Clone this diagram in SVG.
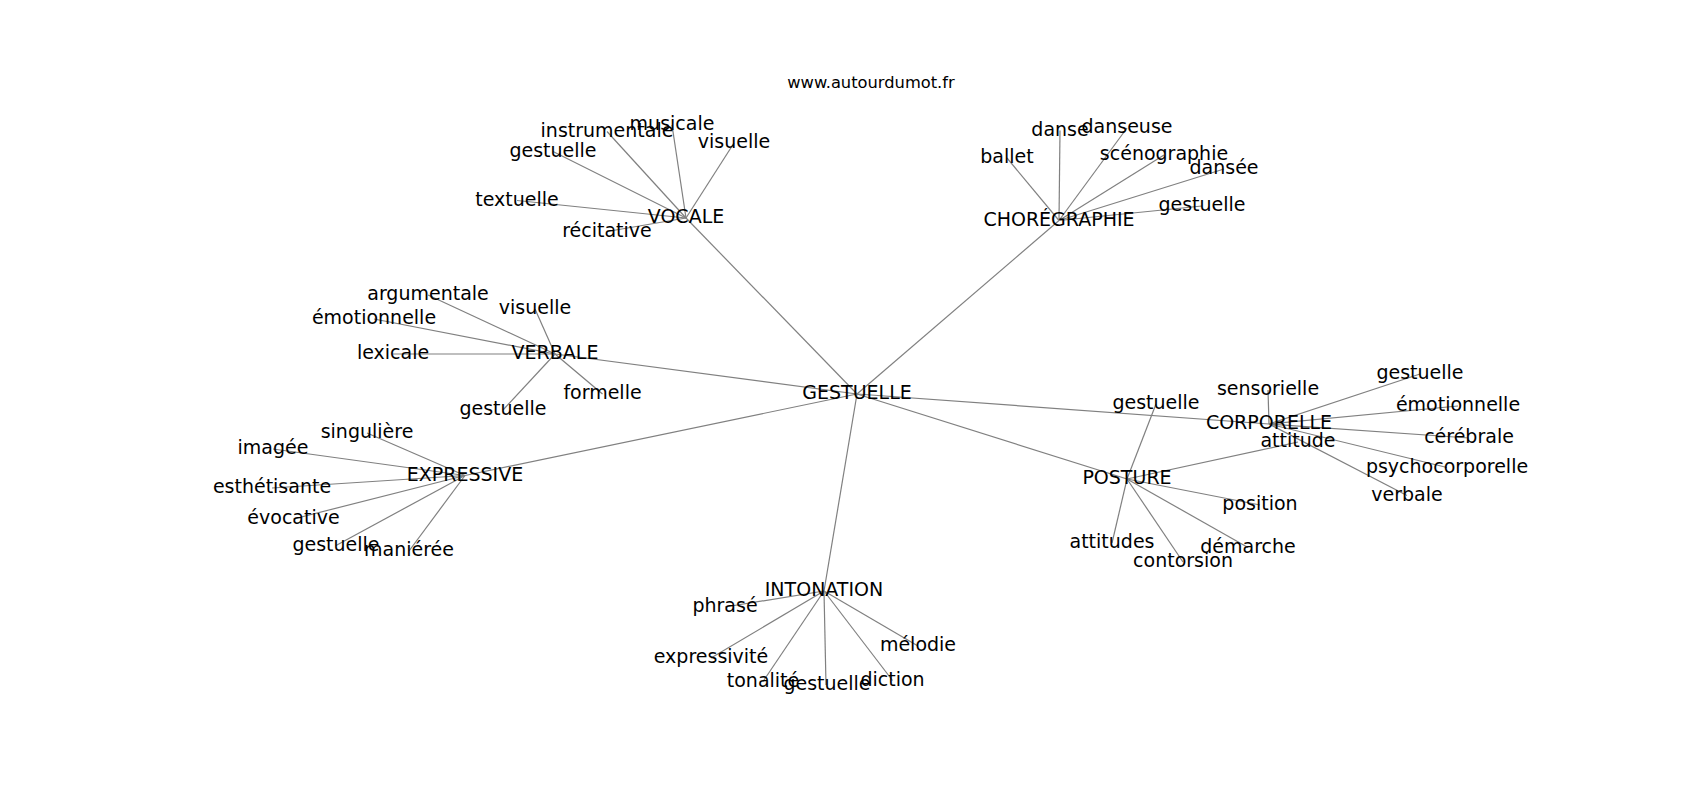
<svg xmlns="http://www.w3.org/2000/svg" width="1700" height="800" viewBox="0 0 1700 800">
<style>
.e line{stroke:#808080;stroke-width:1.2}
text{font-family:"DejaVu Sans","Liberation Sans",sans-serif;font-size:19px;fill:#000;text-anchor:middle}
.t{font-size:16.3px}
</style>
<rect width="1700" height="800" fill="#fff"/>
<text class="t" x="871" y="88">www.autourdumot.fr</text>
<g class="e" id="edges">
<line x1="857" y1="394" x2="686" y2="218"/>
<line x1="857" y1="394" x2="1059" y2="220.5"/>
<line x1="857" y1="394" x2="555" y2="354"/>
<line x1="857" y1="394" x2="465" y2="475.5"/>
<line x1="857" y1="394" x2="824" y2="591"/>
<line x1="857" y1="394" x2="1127" y2="479"/>
<line x1="857" y1="394" x2="1269" y2="424"/>
<line x1="686" y1="218" x2="517" y2="200.5"/>
<line x1="686" y1="218" x2="553" y2="151.5"/>
<line x1="686" y1="218" x2="607" y2="131.5"/>
<line x1="686" y1="218" x2="672" y2="125"/>
<line x1="686" y1="218" x2="734" y2="143"/>
<line x1="686" y1="218" x2="607" y2="231.5"/>
<line x1="1059" y1="220.5" x2="1007" y2="158"/>
<line x1="1059" y1="220.5" x2="1060" y2="130.5"/>
<line x1="1059" y1="220.5" x2="1127" y2="128"/>
<line x1="1059" y1="220.5" x2="1164" y2="155"/>
<line x1="1059" y1="220.5" x2="1224" y2="169"/>
<line x1="1059" y1="220.5" x2="1202" y2="206"/>
<line x1="555" y1="354" x2="428" y2="295"/>
<line x1="555" y1="354" x2="374" y2="319"/>
<line x1="555" y1="354" x2="535" y2="309"/>
<line x1="555" y1="354" x2="393" y2="354"/>
<line x1="555" y1="354" x2="602.5" y2="394"/>
<line x1="555" y1="354" x2="503" y2="410"/>
<line x1="465" y1="475.5" x2="367" y2="433"/>
<line x1="465" y1="475.5" x2="273" y2="449"/>
<line x1="465" y1="475.5" x2="272" y2="488"/>
<line x1="465" y1="475.5" x2="293.5" y2="519"/>
<line x1="465" y1="475.5" x2="336" y2="545.5"/>
<line x1="465" y1="475.5" x2="409" y2="551"/>
<line x1="824" y1="591" x2="725" y2="607"/>
<line x1="824" y1="591" x2="711" y2="658"/>
<line x1="824" y1="591" x2="763" y2="681.5"/>
<line x1="824" y1="591" x2="826" y2="685"/>
<line x1="824" y1="591" x2="892.5" y2="680.5"/>
<line x1="824" y1="591" x2="918" y2="646"/>
<line x1="1127" y1="479" x2="1156" y2="404"/>
<line x1="1127" y1="479" x2="1298" y2="442"/>
<line x1="1127" y1="479" x2="1260" y2="505"/>
<line x1="1127" y1="479" x2="1112" y2="543"/>
<line x1="1127" y1="479" x2="1183" y2="562"/>
<line x1="1127" y1="479" x2="1248" y2="547.5"/>
<line x1="1269" y1="424" x2="1268" y2="390"/>
<line x1="1269" y1="424" x2="1420" y2="374"/>
<line x1="1269" y1="424" x2="1458" y2="406"/>
<line x1="1269" y1="424" x2="1469" y2="438"/>
<line x1="1269" y1="424" x2="1447" y2="467.5"/>
<line x1="1269" y1="424" x2="1407" y2="495.5"/>
</g>
<g id="n-gestuelle"><text x="857" y="399.2">GESTUELLE</text></g>
<g id="n-vocale"><text x="686" y="223.2">VOCALE</text></g>
<g id="n-choregraphie"><text x="1059" y="225.7">CHORÉGRAPHIE</text></g>
<g id="n-verbale"><text x="555" y="359.2">VERBALE</text></g>
<g id="n-expressive"><text x="465" y="480.7">EXPRESSIVE</text></g>
<g id="n-intonation"><text x="824" y="596.2">INTONATION</text></g>
<g id="n-posture"><text x="1127" y="484.2">POSTURE</text></g>
<g id="n-corporelle"><text x="1269" y="429.2">CORPORELLE</text></g>
<g id="n-v-textuelle"><text x="517" y="205.7">textuelle</text></g>
<g id="n-v-gestuelle"><text x="553" y="156.7">gestuelle</text></g>
<g id="n-v-instrumentale"><text x="607" y="136.7">instrumentale</text></g>
<g id="n-v-musicale"><text x="672" y="130.2">musicale</text></g>
<g id="n-v-visuelle"><text x="734" y="148.2">visuelle</text></g>
<g id="n-v-recitative"><text x="607" y="236.7">récitative</text></g>
<g id="n-c-ballet"><text x="1007" y="163.2">ballet</text></g>
<g id="n-c-danse"><text x="1060" y="135.7">danse</text></g>
<g id="n-c-danseuse"><text x="1127" y="133.2">danseuse</text></g>
<g id="n-c-scenographie"><text x="1164" y="160.2">scénographie</text></g>
<g id="n-c-dansee"><text x="1224" y="174.2">dansée</text></g>
<g id="n-c-gestuelle"><text x="1202" y="211.2">gestuelle</text></g>
<g id="n-vb-argumentale"><text x="428" y="300.2">argumentale</text></g>
<g id="n-vb-emotionnelle"><text x="374" y="324.2">émotionnelle</text></g>
<g id="n-vb-visuelle"><text x="535" y="314.2">visuelle</text></g>
<g id="n-vb-lexicale"><text x="393" y="359.2">lexicale</text></g>
<g id="n-vb-formelle"><text x="602.5" y="399.2">formelle</text></g>
<g id="n-vb-gestuelle"><text x="503" y="415.2">gestuelle</text></g>
<g id="n-e-singuliere"><text x="367" y="438.2">singulière</text></g>
<g id="n-e-imagee"><text x="273" y="454.2">imagée</text></g>
<g id="n-e-esthetisante"><text x="272" y="493.2">esthétisante</text></g>
<g id="n-e-evocative"><text x="293.5" y="524.2">évocative</text></g>
<g id="n-e-gestuelle"><text x="336" y="550.7">gestuelle</text></g>
<g id="n-e-manieree"><text x="409" y="556.2">maniérée</text></g>
<g id="n-i-phrase"><text x="725" y="612.2">phrasé</text></g>
<g id="n-i-expressivite"><text x="711" y="663.2">expressivité</text></g>
<g id="n-i-tonalite"><text x="763" y="686.7">tonalité</text></g>
<g id="n-i-gestuelle"><text x="827" y="690.2">gestuelle</text></g>
<g id="n-i-diction"><text x="892.5" y="685.7">diction</text></g>
<g id="n-i-melodie"><text x="918" y="651.2">mélodie</text></g>
<g id="n-p-gestuelle"><text x="1156" y="409.2">gestuelle</text></g>
<g id="n-p-attitude"><text x="1298" y="447.2">attitude</text></g>
<g id="n-p-position"><text x="1260" y="510.2">position</text></g>
<g id="n-p-attitudes"><text x="1112" y="548.2">attitudes</text></g>
<g id="n-p-contorsion"><text x="1183" y="567.2">contorsion</text></g>
<g id="n-p-demarche"><text x="1248" y="552.7">démarche</text></g>
<g id="n-co-sensorielle"><text x="1268" y="395.2">sensorielle</text></g>
<g id="n-co-gestuelle"><text x="1420" y="379.2">gestuelle</text></g>
<g id="n-co-emotionnelle"><text x="1458" y="411.2">émotionnelle</text></g>
<g id="n-co-cerebrale"><text x="1469" y="443.2">cérébrale</text></g>
<g id="n-co-psychocorporelle"><text x="1447" y="472.7">psychocorporelle</text></g>
<g id="n-co-verbale"><text x="1407" y="500.7">verbale</text></g>
</svg>
